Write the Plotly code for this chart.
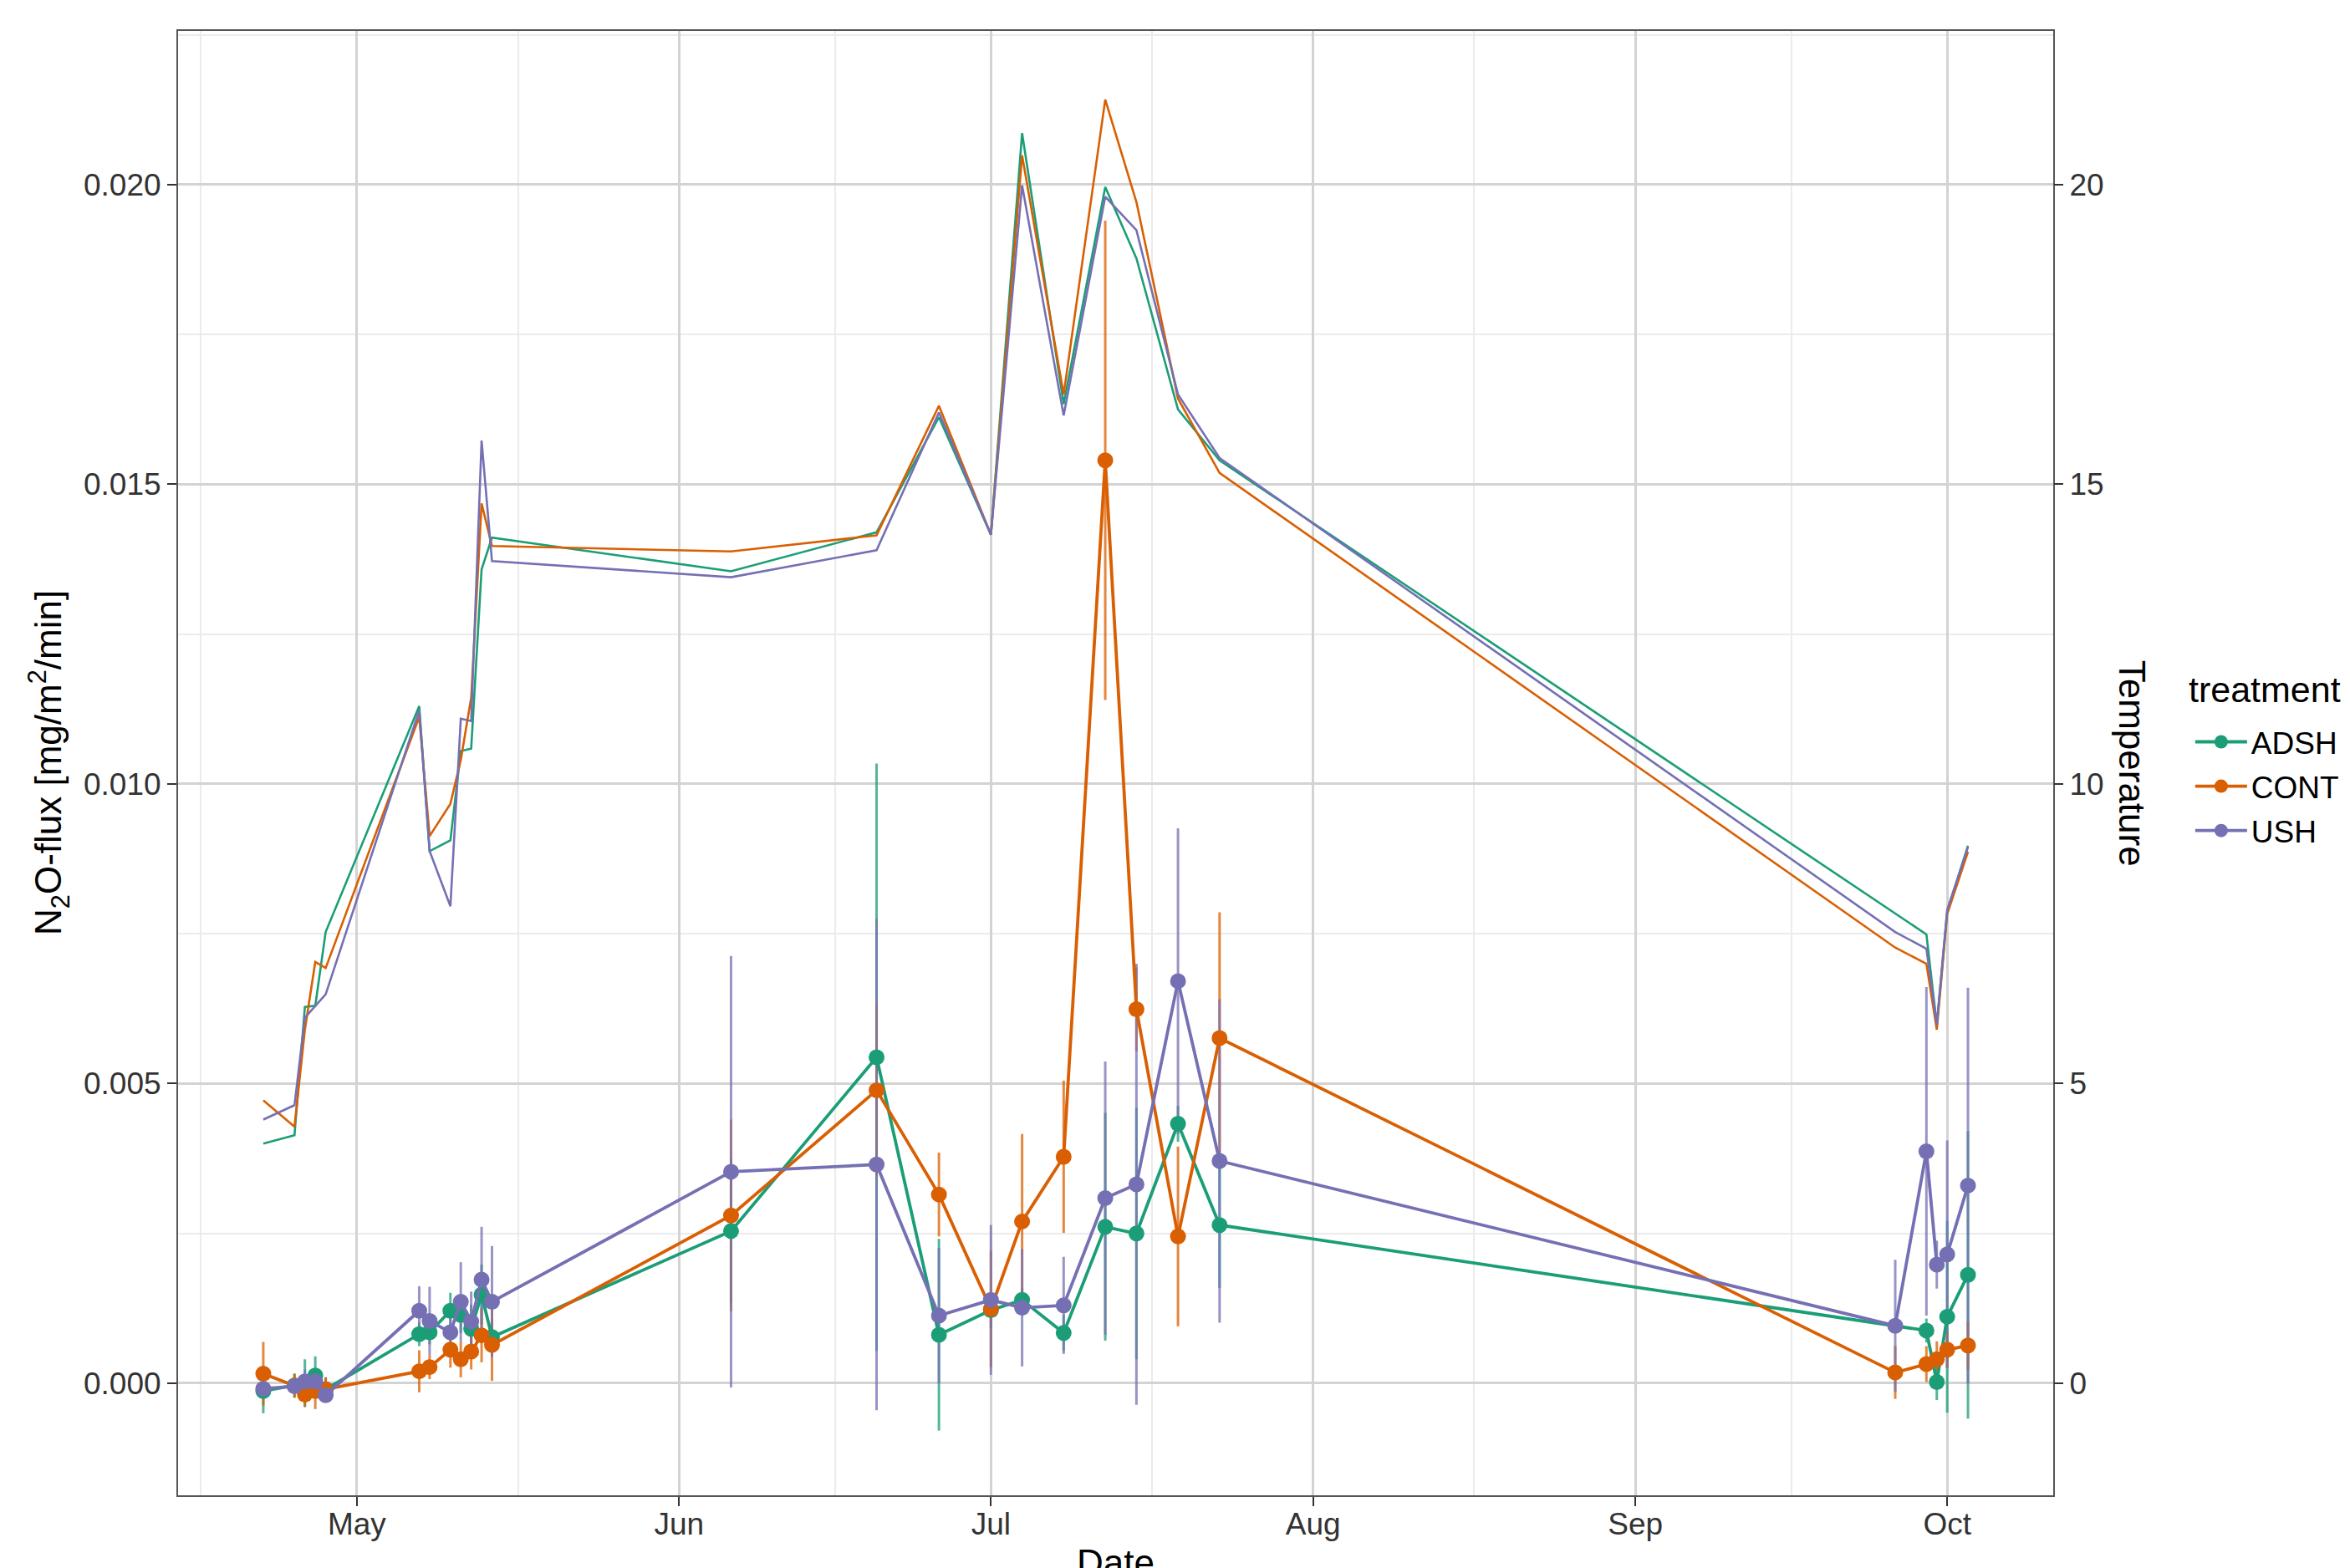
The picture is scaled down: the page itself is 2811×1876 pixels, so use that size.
import plotly.graph_objects as go
import pandas as pd

# ---------------- data ----------------
dates = ["2021-04-22", "2021-04-25", "2021-04-26", "2021-04-27", "2021-04-28",
         "2021-05-07", "2021-05-08", "2021-05-10", "2021-05-11", "2021-05-12",
         "2021-05-13", "2021-05-14", "2021-06-06", "2021-06-20", "2021-06-26",
         "2021-07-01", "2021-07-04", "2021-07-08", "2021-07-12", "2021-07-15",
         "2021-07-19", "2021-07-23", "2021-09-26", "2021-09-29", "2021-09-30",
         "2021-10-01", "2021-10-03"]

treatments = ["ADSH", "CONT", "USH"]

flux_ADSH = [-0.00013, -0.00004, 0.0, 0.00013, -0.0001,
             0.00082, 0.00085, 0.00121, 0.00114, 0.00091,
             0.00148, 0.00077, 0.00254, 0.00544, 0.00081,
             0.00122, 0.00139, 0.00084, 0.00261, 0.0025,
             0.00433, 0.00264, None, 0.00088, 0.00002,
             0.00111, 0.00181]
flux_CONT = [0.00016, -0.00004, -0.00019, -0.00013, -0.0001,
             0.0002, 0.00027, 0.00056, 0.0004, 0.00053,
             0.0008, 0.00064, 0.0028, 0.00489, 0.00315,
             0.00124, 0.0027, 0.00378, 0.0154, 0.00624,
             0.00245, 0.00576, 0.00018, 0.00032, 0.0004,
             0.00056, 0.00063]
flux_USH = [-0.00009, -0.00005, 0.00003, 0.00003, -0.0002,
            0.00121, 0.00104, 0.00085, 0.00136, 0.00103,
            0.00173, 0.00136, 0.00353, 0.00365, 0.00113,
            0.00139, 0.00126, 0.0013, 0.00309, 0.00332,
            0.00671, 0.00371, 0.00096, 0.00387, 0.00198,
            0.00215, 0.0033]

se_ADSH = [0.00037, 0.0002, 0.0004, 0.00032, 0.0002,
           0.0002, 0.0002, 0.0003, 0.0003, 0.0004,
           0.0005, 0.0003, 0.0012, 0.0049, 0.0016,
           0.0003, 0.0002, 0.0003, 0.0019, 0.0021,
           0.0003, 0.00105, None, 0.0002, 0.0003,
           0.0016, 0.0024]
se_CONT = [0.00053, 0.0002, 0.0002, 0.0003, 0.0002,
           0.00035, 0.0002, 0.0003, 0.0003, 0.0003,
           0.00045, 0.0006, 0.0016, 0.00143, 0.0007,
           0.00097, 0.00146, 0.00127, 0.004, 0.0007,
           0.0015, 0.0021, 0.00044, 0.0003, 0.0003,
           0.0003, 0.0004]
se_USH = [0.0001, 0.0001, 0.0002, 0.0002, 0.0001,
          0.00041, 0.00057, 0.0003, 0.00066, 0.0005,
          0.00088, 0.00093, 0.0036, 0.0041, 0.00113,
          0.00125, 0.00098, 0.00081, 0.00228, 0.00368,
          0.00255, 0.0027, 0.0011, 0.00274, 0.0004,
          0.0019, 0.0033]

temp_ADSH = [4.0, 4.14, 6.28, 6.3, 7.53,
             11.3, 8.88, 9.06, 10.55, 10.59,
             13.58, 14.11, 13.55, 14.2, 16.12,
             14.16, 20.86, 16.34, 19.96, 18.77,
             16.25, 15.4, None, 7.49, 5.98,
             7.87, 8.97]
temp_CONT = [4.72, 4.28, 5.9, 7.03, 6.93,
             11.12, 9.13, 9.67, 10.4, 11.44,
             14.68, 13.97, 13.88, 14.15, 16.31,
             14.16, 20.49, 16.5, 21.42, 19.71,
             16.43, 15.19, 7.27, 7.0, 5.9,
             7.83, 8.87]
temp_USH = [4.4, 4.64, 6.1, 6.3, 6.49,
            11.23, 8.88, 7.96, 11.09, 11.05,
            15.73, 13.72, 13.45, 13.9, 16.2,
            14.16, 19.99, 16.15, 19.8, 19.24,
            16.5, 15.44, 7.53, 7.25, 5.98,
            7.9, 8.95]

colors = {"ADSH": "#1B9E77", "CONT": "#D95F02", "USH": "#7570B3"}
bar_colors = {"ADSH": "rgba(27,158,119,0.75)", "CONT": "rgba(217,95,2,0.75)",
              "USH": "rgba(117,112,179,0.75)"}

flux = {"ADSH": flux_ADSH, "CONT": flux_CONT, "USH": flux_USH}
se = {"ADSH": se_ADSH, "CONT": se_CONT, "USH": se_USH}
temp = {"ADSH": temp_ADSH, "CONT": temp_CONT, "USH": temp_USH}

x_tick_start = "2021-05-01"
y_ticks = [0.0, 0.005, 0.010, 0.015, 0.020]
y2_ticks = [0, 5, 10, 15, 20]

# ---------------- figure ----------------
fig = go.Figure()

def clean(xs, *cols):
    keep = [i for i, v in enumerate(cols[0]) if v is not None]
    return [xs[i] for i in keep], [[c[i] for i in keep] for c in cols]

# temperature lines (secondary axis)
for t in treatments:
    xd, (tv,) = clean(dates, temp[t])
    fig.add_trace(go.Scatter(x=xd, y=tv, mode="lines", yaxis="y2",
                             line=dict(color=colors[t], width=2.6),
                             showlegend=False, hoverinfo="skip"))

# error bars
for t in treatments:
    xd, (fv, sv) = clean(dates, flux[t], se[t])
    fig.add_trace(go.Scatter(x=xd, y=fv, mode="markers",
                             marker=dict(size=1, opacity=0),
                             error_y=dict(type="data", array=sv, visible=True,
                                          color=bar_colors[t], thickness=3, width=0),
                             showlegend=False, hoverinfo="skip"))

# flux lines + points
for t in treatments:
    xd, (fv,) = clean(dates, flux[t])
    fig.add_trace(go.Scatter(x=xd, y=fv, mode="lines+markers", name=t,
                             legendgroup=t,
                             line=dict(color=colors[t], width=3.8),
                             marker=dict(color=colors[t], size=19)))

# ranges (ggplot-like 5% expansion)
d = pd.to_datetime(dates)
span = d.max() - d.min()
x_range = [d.min() - 0.05 * span, d.max() + 0.05 * span]
y_range = [-0.001869, 0.022566]
y2_range = [v * 1000 for v in y_range]

months = pd.date_range("2021-04-01", "2021-11-01", freq="MS")
minor_x = [months[i] + (months[i + 1] - months[i]) / 2 for i in range(len(months) - 1)]
minor_x = [m for m in minor_x if x_range[0] <= m <= x_range[1]]

font_family = "Liberation Sans, Arial, sans-serif"
tickfont = dict(family=font_family, size=37, color="#333333")
major_grid = "#d3d3d3"
minor_grid = "#ebebeb"

fig.update_layout(
    width=2803, height=1868,
    margin=dict(l=205, r=355, t=29, b=87, autoexpand=False),
    paper_bgcolor="white", plot_bgcolor="white",
    font=dict(family=font_family, color="#000000"),
    xaxis=dict(type="date", range=x_range, tickformat="%b", dtick="M1",
               tick0=x_tick_start, ticks="outside", ticklen=11, tickwidth=2,
               tickcolor="#333333", tickfont=tickfont, ticklabelstandoff=-10,
               showgrid=True, gridcolor=major_grid, gridwidth=2.5,
               minor=dict(tickmode="array", tickvals=minor_x, showgrid=True,
                          gridcolor=minor_grid, gridwidth=1.5, ticks=""),
               showline=True, linecolor="#555555", linewidth=2, mirror=True,
               zeroline=False),
    yaxis=dict(range=y_range, tickmode="array", tickvals=y_ticks,
               ticktext=[f"{v:.3f}" for v in y_ticks],
               ticks="outside", ticklen=11, tickwidth=2, tickcolor="#333333",
               tickfont=tickfont, showgrid=True, gridcolor=major_grid, gridwidth=2.5,
               minor=dict(tickmode="array",
                          tickvals=[0.0025, 0.0075, 0.0125, 0.0175, 0.0225],
                          showgrid=True, gridcolor=minor_grid, gridwidth=1.5, ticks=""),
               showline=True, linecolor="#555555", linewidth=2, mirror=True,
               zeroline=False),
    yaxis2=dict(range=y2_range, overlaying="y", side="right", tickmode="array",
                tickvals=y2_ticks, ticks="outside", ticklen=11, tickwidth=2,
                tickcolor="#333333", tickfont=tickfont, showgrid=False,
                zeroline=False, showline=False),
    legend=dict(x=1.0735, xanchor="left", y=0.532, yanchor="top",
                font=dict(size=37, family=font_family), tracegroupgap=2,
                itemwidth=62, bgcolor="rgba(0,0,0,0)"),
    annotations=[
        dict(text="N<sub>2</sub>O-flux [mg/m<sup>2</sup>/min]", textangle=-90,
             x=-0.0691, xref="paper", xanchor="center", y=0.5, yref="paper",
             yanchor="middle", showarrow=False, font=dict(size=44, family=font_family)),
        dict(text="Temperature", textangle=90,
             x=1.0425, xref="paper", xanchor="center", y=0.5, yref="paper",
             yanchor="middle", showarrow=False, font=dict(size=44, family=font_family)),
        dict(text="Date", x=0.5, xref="paper", xanchor="center",
             y=-0.031, yref="paper", yanchor="top", showarrow=False,
             font=dict(size=44, family=font_family)),
        dict(text="treatment", x=1.0712, xref="paper", xanchor="left",
             y=0.5502, yref="paper", yanchor="middle", showarrow=False,
             font=dict(size=43, family=font_family)),
    ],
)

fig.write_html("out.html")
